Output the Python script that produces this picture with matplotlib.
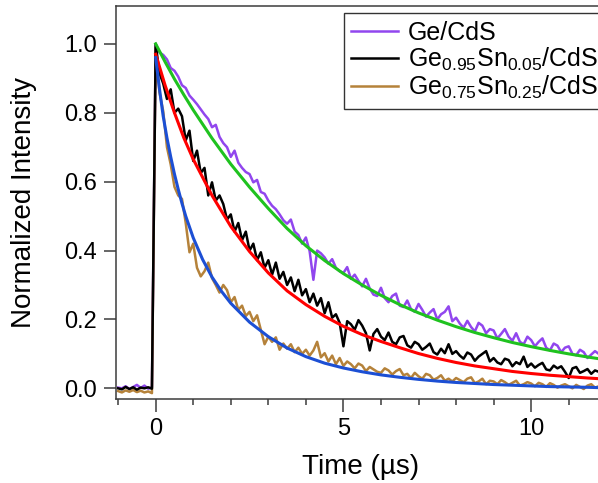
import matplotlib.pyplot as plt
import numpy as np

plt.rcParams['font.family'] = ['Liberation Sans', 'DejaVu Sans']
plt.rcParams['mathtext.default'] = 'regular'

# 采样: 从 -1.0 µs 开始, 每 0.1 µs 一个点
t_start = -1.0
t_step = 0.1

# Ge/CdS (紫色)
ge_pre = [0.002, 0.000, 0.006, -0.002, 0.004, 0.010, 0.001, 0.008, -0.001, 0.003]
ge_decay = [
    1.000, 0.975, 0.968, 0.955, 0.930, 0.922, 0.905, 0.880, 0.872, 0.850,
    0.838, 0.825, 0.810, 0.795, 0.782, 0.758, 0.765, 0.730, 0.712, 0.700,
    0.672, 0.690, 0.655, 0.640, 0.628, 0.622, 0.598, 0.605, 0.570, 0.565,
    0.545, 0.530, 0.520, 0.505, 0.488, 0.478, 0.490, 0.455, 0.445, 0.420,
    0.438, 0.398, 0.315, 0.400, 0.392, 0.380, 0.362, 0.375, 0.350, 0.340,
    0.335, 0.352, 0.318, 0.330, 0.312, 0.296, 0.318, 0.290, 0.272, 0.268,
    0.292, 0.262, 0.250, 0.268, 0.275, 0.240, 0.236, 0.255, 0.230, 0.222,
    0.245, 0.228, 0.208, 0.220, 0.230, 0.200, 0.215, 0.222, 0.238, 0.195,
    0.205, 0.188, 0.176, 0.196, 0.178, 0.165, 0.190, 0.182, 0.160, 0.172,
    0.168, 0.145, 0.158, 0.172, 0.150, 0.138, 0.160, 0.135, 0.128, 0.150,
    0.140, 0.122, 0.135, 0.145, 0.118, 0.110, 0.130, 0.124, 0.105, 0.118,
    0.122, 0.100, 0.096, 0.112, 0.105, 0.088, 0.098, 0.108, 0.100,
]

# Ge0.95Sn0.05/CdS (黑色)
gesn5_pre = [0.000, -0.003, 0.004, -0.002, 0.003, -0.004, 0.002, 0.000, 0.003, -0.001]
gesn5_decay = [
    1.000, 0.915, 0.885, 0.840, 0.868, 0.800, 0.812, 0.790, 0.720, 0.748,
    0.660, 0.690, 0.625, 0.640, 0.560, 0.598, 0.545, 0.560, 0.535, 0.490,
    0.505, 0.455, 0.480, 0.430, 0.455, 0.400, 0.420, 0.372, 0.395, 0.350,
    0.372, 0.330, 0.365, 0.318, 0.338, 0.300, 0.322, 0.282, 0.315, 0.270,
    0.288, 0.250, 0.275, 0.240, 0.262, 0.218, 0.250, 0.205, 0.215, 0.190,
    0.122, 0.195, 0.186, 0.170, 0.198, 0.182, 0.160, 0.110, 0.158, 0.172,
    0.150, 0.140, 0.162, 0.135, 0.128, 0.148, 0.152, 0.125, 0.118, 0.135,
    0.128, 0.112, 0.120, 0.130, 0.105, 0.098, 0.115, 0.102, 0.128, 0.100,
    0.108, 0.095, 0.086, 0.104, 0.098, 0.080, 0.092, 0.100, 0.108, 0.078,
    0.088, 0.075, 0.070, 0.086, 0.082, 0.064, 0.076, 0.070, 0.092, 0.062,
    0.072, 0.060, 0.068, 0.074, 0.055, 0.052, 0.066, 0.058, 0.064, 0.048,
    0.030, 0.058, 0.062, 0.045, 0.050, 0.056, 0.042, 0.052, 0.048,
]

# Ge0.75Sn0.25/CdS (棕色)
gesn25_pre = [-0.008, -0.012, -0.006, -0.010, -0.005, -0.011, -0.007, -0.012, -0.009, -0.014]
gesn25_decay = [
    0.990, 0.860, 0.805, 0.700, 0.650, 0.585, 0.560, 0.550, 0.480, 0.395,
    0.420, 0.350, 0.325, 0.340, 0.365, 0.320, 0.300, 0.278, 0.300, 0.285,
    0.250, 0.265, 0.228, 0.240, 0.210, 0.222, 0.195, 0.212, 0.170, 0.128,
    0.150, 0.135, 0.148, 0.112, 0.130, 0.115, 0.128, 0.105, 0.118, 0.100,
    0.112, 0.095, 0.110, 0.135, 0.090, 0.102, 0.078, 0.095, 0.070, 0.088,
    0.065, 0.078, 0.070, 0.058, 0.072, 0.066, 0.050, 0.062, 0.055, 0.048,
    0.045, 0.058, 0.052, 0.040, 0.050, 0.056, 0.038, 0.042, 0.030, 0.045,
    0.035, 0.028, 0.042, 0.038, 0.025, 0.030, 0.038, 0.022, 0.028, 0.020,
    0.030, 0.024, 0.018, 0.028, 0.032, 0.015, 0.020, 0.028, 0.012, 0.022,
    0.020, 0.012, 0.024, 0.018, 0.010, 0.016, 0.022, 0.008, 0.012, 0.018,
    0.014, 0.006, 0.016, 0.012, 0.004, 0.015, 0.010, 0.002, 0.008, 0.012,
    0.006, 0.000, 0.010, 0.004, -0.002, 0.008, 0.012, 0.002, 0.006,
]

# 拟合曲线
fit_t = [0, 0.25, 0.5, 0.75, 1.0, 1.5, 2.0, 2.5, 3.0, 3.5, 4.0, 4.5, 5.0, 5.5,
         6.0, 6.5, 7.0, 7.5, 8.0, 8.5, 9.0, 9.5, 10.0, 10.5, 11.0, 11.5, 11.8]
ge_fit = [1.000, 0.948, 0.898, 0.852, 0.808, 0.726, 0.651, 0.584, 0.522, 0.464,
          0.414, 0.371, 0.333, 0.300, 0.270, 0.243, 0.219, 0.198, 0.179, 0.162,
          0.147, 0.133, 0.121, 0.110, 0.100, 0.091, 0.086]
gesn5_fit = [0.970, 0.880, 0.800, 0.727, 0.665, 0.560, 0.470, 0.397, 0.335, 0.283,
             0.243, 0.209, 0.180, 0.156, 0.136, 0.118, 0.101, 0.087, 0.075, 0.065,
             0.057, 0.049, 0.043, 0.038, 0.034, 0.030, 0.028]
fit_t_fast = [0, 0.1, 0.2, 0.3, 0.4, 0.5, 0.6, 0.7, 0.8, 1.0, 1.25, 1.5, 1.75, 2.0,
              2.5, 3.0, 3.5, 4.0, 4.5, 5.0, 5.5, 6.0, 6.5, 7.0, 7.5, 8.0, 8.5, 9.0,
              9.5, 10.0, 10.5, 11.0, 11.5, 11.8]
gesn25_fit = [0.960, 0.870, 0.790, 0.727, 0.672, 0.622, 0.578, 0.537, 0.500, 0.437,
              0.374, 0.323, 0.282, 0.247, 0.192, 0.150, 0.117, 0.092, 0.073, 0.059,
              0.048, 0.039, 0.032, 0.026, 0.021, 0.017, 0.014, 0.011, 0.009, 0.007,
              0.005, 0.004, 0.003, 0.002]

labels = ['Ge/CdS', 'Ge$_{0.95}$Sn$_{0.05}$/CdS', 'Ge$_{0.75}$Sn$_{0.25}$/CdS']
data_colors = ['#9146EE', '#000000', '#B5823A']
fit_colors = ['#1FC21F', '#FF0000', '#1C4FD4']


def time_axis(vals):
    return t_start + t_step * np.arange(len(vals))


fig = plt.figure(figsize=(5.98, 4.83), dpi=100)
ax = fig.add_axes([116 / 598, 1 - 399 / 483, 1 - 116 / 598, (399 - 6) / 483])

series = [ge_pre + ge_decay, gesn5_pre + gesn5_decay, gesn25_pre + gesn25_decay]
handles = {}
# 先画紫色, 再棕色, 黑色在最上
for i in [0, 2, 1]:
    h, = ax.plot(time_axis(series[i]), series[i], color=data_colors[i], lw=1.8,
                 label=labels[i])
    handles[i] = h

ax.plot(fit_t, ge_fit, color=fit_colors[0], lw=2.2)
ax.plot(fit_t, gesn5_fit, color=fit_colors[1], lw=2.2)
ax.plot(fit_t_fast, gesn25_fit, color=fit_colors[2], lw=2.2)

ax.set_xlim(-1.057, 11.78)
ax.set_ylim(-0.031, 1.110)

ax.set_xticks([0, 5, 10])
ax.set_xticks(range(-1, 12), minor=True)
ax.set_yticks([0.0, 0.2, 0.4, 0.6, 0.8, 1.0])
ax.set_yticklabels(['0.0', '0.2', '0.4', '0.6', '0.8', '1.0'])

axis_col = '#3c3c3c'
for side in ['left', 'bottom', 'top']:
    ax.spines[side].set_color(axis_col)
    ax.spines[side].set_linewidth(1.1)
ax.spines['right'].set_visible(False)
ax.tick_params(which='major', direction='out', length=9, width=1.1, color=axis_col,
               labelsize=17, pad=5)
ax.tick_params(which='minor', direction='out', length=4.5, width=1.1, color=axis_col)

ax.set_xlabel('Time (µs)', fontsize=20)
ax.set_ylabel('Normalized Intensity', fontsize=20)
ax.xaxis.set_label_coords(0.508, -0.14)
ax.yaxis.set_label_coords(-0.163, 0.5)

leg = ax.legend(handles=[handles[0], handles[1], handles[2]], labels=labels,
                loc='upper left', bbox_to_anchor=(344 / 598, 1 - 13 / 483),
                bbox_transform=fig.transFigure, fontsize=18, frameon=True,
                fancybox=False, edgecolor='black', borderpad=0.3, labelspacing=0.05,
                handlelength=1.85, handletextpad=0.4, borderaxespad=0)
leg.get_frame().set_linewidth(1.0)

fig.savefig('out.png', dpi=100)
